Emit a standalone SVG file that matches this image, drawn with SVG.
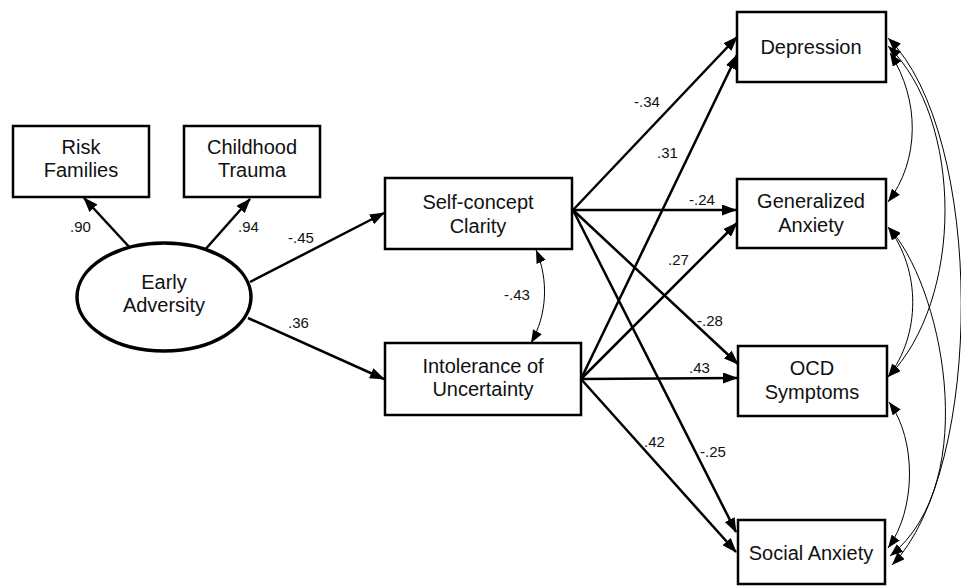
<svg xmlns="http://www.w3.org/2000/svg" width="961" height="587" viewBox="0 0 961 587">
<style>
.box{fill:#fff;stroke:#000;stroke-width:2.5}
.lbl{font-family:"Liberation Sans",Arial,sans-serif;font-size:20px;text-anchor:middle;fill:#111}
.num{font-family:"Liberation Sans",Arial,sans-serif;font-size:15px;fill:#111}
.path{fill:none;stroke:#000;stroke-width:2.5;marker-end:url(#ah)}
.cov{fill:none;stroke:#000;stroke-width:1;marker-start:url(#ahs);marker-end:url(#ahs)}
</style>
<defs>
<marker id="ah" markerUnits="userSpaceOnUse" markerWidth="15" markerHeight="11" refX="14" refY="5.5" orient="auto"><path d="M0,0 L15,5.5 L0,11 z" fill="#000"/></marker>
<marker id="ahs" markerUnits="userSpaceOnUse" markerWidth="13" markerHeight="10" refX="13" refY="5" orient="auto-start-reverse"><path d="M0,0 L13,5 L0,10 z" fill="#000"/></marker>
</defs>
<rect width="961" height="587" fill="#fff"/>
<g id="connectors">
<path class="path" d="M132,250 L84,198"/>
<path class="path" d="M203,252 L250,199"/>
<path class="path" d="M250,282 L384,213"/>
<path class="path" d="M248,318 L384,379"/>
<path class="path" d="M573,210 L737,37"/>
<path class="path" d="M573,210 L736,210"/>
<path class="path" d="M573,210 L738,364"/>
<path class="path" d="M573,210 L736,532"/>
<path class="path" d="M581,379 L737,55"/>
<path class="path" d="M581,379 L737,223"/>
<path class="path" d="M581,379 L737,378"/>
<path class="path" d="M581,379 L736,552"/>
<path class="cov" d="M536,250 C549,280 547,315 531,343"/>
<path class="cov" d="M890,53 C920,100 920,160 888,202"/>
<path class="cov" d="M888,46 C964,120 964,300 888,377"/>
<path class="cov" d="M888,38 C985,133 985,470 892,565"/>
<path class="cov" d="M888,227 C921,270 921,335 888,377"/>
<path class="cov" d="M888,227 C940,280 985,480 890,556"/>
<path class="cov" d="M889,402 C917,440 916,510 888,548"/>
</g>
<g id="edge-labels">
<text class="num" x="70" y="232">.90</text>
<text class="num" x="238" y="232">.94</text>
<text class="num" x="288" y="243">-.45</text>
<text class="num" x="288" y="328">.36</text>
<text class="num" x="504" y="300">-.43</text>
<text class="num" x="634" y="107">-.34</text>
<text class="num" x="657" y="158">.31</text>
<text class="num" x="689" y="205">-.24</text>
<text class="num" x="668" y="265">.27</text>
<text class="num" x="697" y="326">-.28</text>
<text class="num" x="689" y="373">.43</text>
<text class="num" x="644" y="447">.42</text>
<text class="num" x="700" y="457">-.25</text>
</g>
<g id="risk-families"><rect class="box" x="13" y="126" width="136" height="71"/><text class="lbl" x="81" y="154">Risk</text><text class="lbl" x="81" y="177">Families</text></g>
<g id="childhood-trauma"><rect class="box" x="184" y="126" width="136" height="71"/><text class="lbl" x="252" y="154">Childhood</text><text class="lbl" x="252" y="177">Trauma</text></g>
<g id="early-adversity"><ellipse cx="164" cy="297" rx="87" ry="54" fill="#fff" stroke="#000" stroke-width="3.5"/><text class="lbl" x="164" y="289">Early</text><text class="lbl" x="164" y="312">Adversity</text></g>
<g id="self-concept-clarity"><rect class="box" x="385" y="178" width="187" height="71"/><text class="lbl" x="478" y="209">Self-concept</text><text class="lbl" x="478" y="233">Clarity</text></g>
<g id="intolerance-of-uncertainty"><rect class="box" x="385" y="343" width="196" height="72"/><text class="lbl" x="483" y="373">Intolerance of</text><text class="lbl" x="483" y="396">Uncertainty</text></g>
<g id="depression"><rect class="box" x="737" y="12" width="149" height="70"/><text class="lbl" x="811" y="54">Depression</text></g>
<g id="generalized-anxiety"><rect class="box" x="737" y="179" width="149" height="69"/><text class="lbl" x="811" y="208">Generalized</text><text class="lbl" x="811" y="232">Anxiety</text></g>
<g id="ocd-symptoms"><rect class="box" x="738" y="346" width="149" height="70"/><text class="lbl" x="812" y="375">OCD</text><text class="lbl" x="812" y="399">Symptoms</text></g>
<g id="social-anxiety"><rect class="box" x="738" y="520" width="147" height="64"/><text class="lbl" x="811" y="560">Social Anxiety</text></g>
</svg>
